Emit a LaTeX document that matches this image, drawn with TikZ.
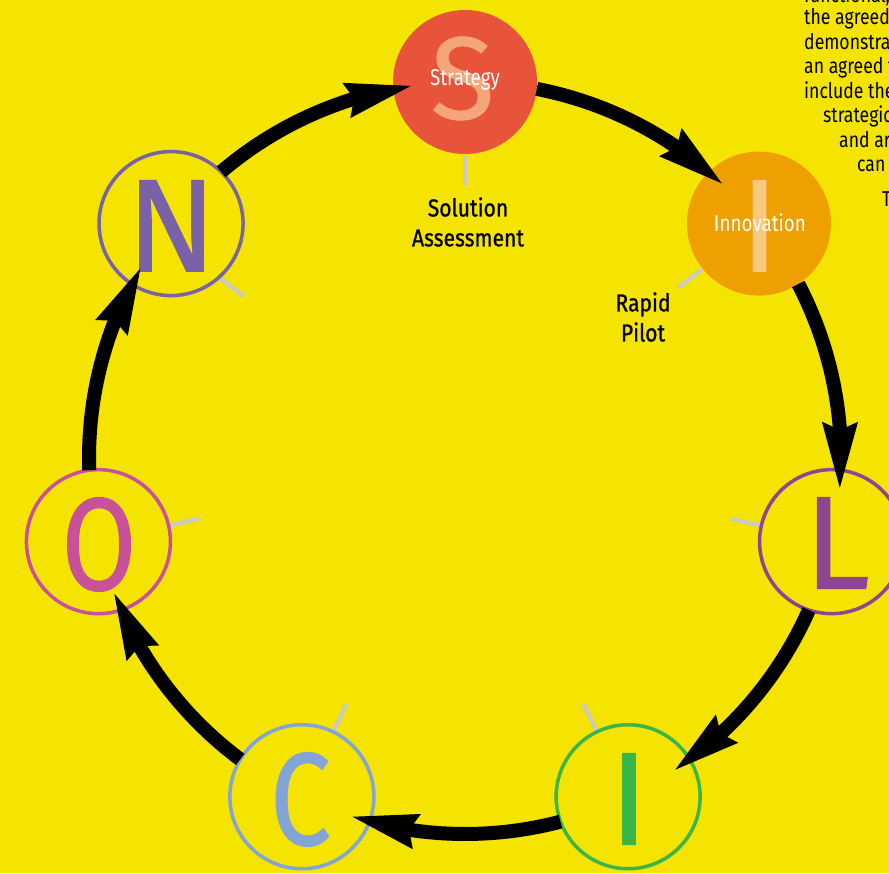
\documentclass[tikz,border=0pt]{standalone}
\usepackage{fontspec}
\setmainfont{Fira Sans}
\newfontfamily\condfont{Fira Sans}[FakeStretch=0.82]
\newfontfamily\labfont{Fira Sans}[FakeStretch=0.86, FakeBold=0.9]
\newfontfamily\letfont{Fira Sans}[FakeBold=0.8]
\newfontfamily\condletfont{Fira Sans}[FakeStretch=0.82, FakeBold=0.8]
\usetikzlibrary{arrows.meta,bending,calc}
\definecolor{bg}{HTML}{F5E300}
\definecolor{sred}{HTML}{E8543A}
\definecolor{ssal}{HTML}{F4A57A}
\definecolor{iorg}{HTML}{EEA000}
\definecolor{ibar}{HTML}{F8C97E}
\definecolor{lpur}{HTML}{8F4591}
\definecolor{igrn}{HTML}{3AB54A}
\definecolor{cblu}{HTML}{82A4D6}
\definecolor{opnk}{HTML}{C8519A}
\definecolor{npur}{HTML}{7A62A8}
\definecolor{tickc}{HTML}{C9C9C9}
\tikzset{
  ringnode/.style={circle, inner sep=0pt, minimum size=144pt, line width=3.5pt},
  ticker/.style={draw=tickc, line width=4pt},
  bigletter/.style={inner sep=0pt, font=\letfont\fontsize{132}{132}\selectfont},
  condletter/.style={inner sep=0pt, font=\condletfont\fontsize{132}{132}\selectfont},
  cyclearrow/.style={draw=black, line width=14pt,
    -{Stealth[length=66pt,width=36pt,inset=8pt,line width=1pt]}},
  labeltext/.style={align=center, inner sep=0pt, font=\labfont\fontsize{24.5}{30}\selectfont},
  intext/.style={inner sep=0pt, text=white, font=\condfont\fontsize{23}{26}\selectfont},
  paratext/.style={anchor=base west, inner sep=0pt, font=\condfont\fontsize{21.5}{24}\selectfont}
}
\begin{document}
\begin{tikzpicture}[x=1pt,y=1pt]
\useasboundingbox (0,0) rectangle (889,873);
\fill[bg] (0,0) rectangle (889,873);
\clip (0,0) rectangle (889,873);
\coordinate (ctr) at (465,415);
% node centres on the heptagon
\coordinate (pS)  at ($(ctr)+(90:376)$);
\coordinate (pI1) at ($(ctr)+(38.5714:376)$);
\coordinate (pL)  at ($(ctr)+(-12.8571:376)$);
\coordinate (pI2) at ($(ctr)+(-64.2857:376)$);
\coordinate (pC)  at ($(ctr)+(-115.7143:376)$);
\coordinate (pO)  at ($(ctr)+(-167.1429:376)$);
\coordinate (pN)  at ($(ctr)+(141.4286:376)$);
% ticks
\foreach \p in {pS,pI1,pL,pI2,pC,pO}{
  \draw[ticker] ($(\p)!73pt!(ctr)$) -- ($(\p)!103pt!(ctr)$);
}
\draw[ticker] ($(pN)+(-48:73)$) -- ($(pN)+(-45:103)$);
% circles
\node[ringnode, fill=sred] (S) at (pS) {};
\node[ringnode, fill=iorg] (I1) at (pI1) {};
\node[ringnode, draw=lpur] (L) at (pL) {};
\node[ringnode, draw=igrn] (I2) at (pI2) {};
\node[ringnode, draw=cblu] (C) at (pC) {};
\node[ringnode, draw=opnk] (O) at (pO) {};
\node[ringnode, draw=npur] (N) at (pN) {};
% letters
\node[bigletter, text=ssal, font=\letfont\fontsize{117}{117}\selectfont] (Sl) at (462.5,794.5) {S};
\node[bigletter, text=ibar] (I1l) at (759.5,647) {I};
\node[bigletter, text=lpur] (Ll) at (837,330) {L};
\node[bigletter, text=igrn] (I2l) at (629,74) {I};
\node[condletter, text=cblu] (Cl) at (300.5,73.5) {C};
\node[condletter, text=opnk] (Ol) at (99,328.5) {O};
\node[bigletter, text=npur] (Nl) at (171.5,647) {N};
% inner words
\node[intext] (St) at (465,793) {Strategy};
\node[intext] (In) at (760,650) {Innovation};
% labels
\node[labeltext] (SA) at (468,651) {Solution\\Assessment};
\node[labeltext] (RP) at (643,556) {Rapid\\Pilot};
% paragraph fragment
\node[paratext] (t1) at (804,870) {functional,};
\node[paratext] (t2) at (804,848) {the agreed};
\node[paratext] (t3) at (804,823.5) {demonstrat};
\node[paratext] (t4) at (804,799) {an agreed t};
\node[paratext] (t5) at (804,774.5) {include the};
\node[paratext] (t6) at (823,750) {strategic};
\node[paratext] (t7) at (839,725.5) {and ar};
\node[paratext] (t8) at (857,701) {can};
\node[paratext] (t9) at (882,666) {T};
% cycle arrows
\draw[cyclearrow] ($(ctr)+(79:376)$) arc[start angle=79, end angle=46.9, radius=376];
\draw[cyclearrow] ($(ctr)+(27.57:376)$) arc[start angle=27.57, end angle=-4.56, radius=376];
\draw[cyclearrow] ($(ctr)+(-23.86:376)$) arc[start angle=-23.86, end angle=-55.99, radius=376];
\draw[cyclearrow] ($(ctr)+(-75.29:376)$) arc[start angle=-75.29, end angle=-107.41, radius=376];
\draw[cyclearrow] ($(ctr)+(-126.71:376)$) arc[start angle=-126.71, end angle=-158.84, radius=376];
\draw[cyclearrow] ($(ctr)+(-178.14:376)$) arc[start angle=-178.14, end angle=-210.27, radius=376];
\draw[cyclearrow] ($(ctr)+(130.43:376)$) arc[start angle=130.43, end angle=98.3, radius=376];
\end{tikzpicture}
\end{document}
